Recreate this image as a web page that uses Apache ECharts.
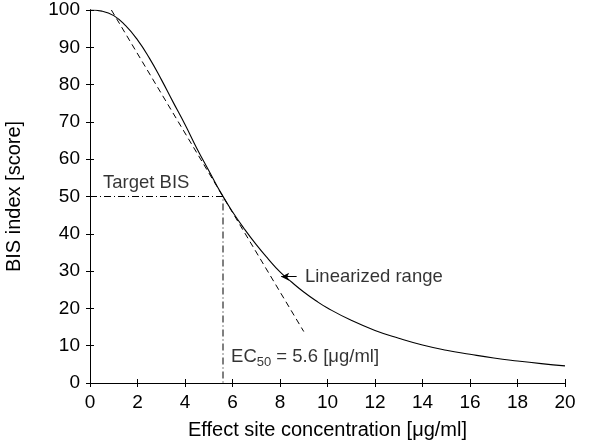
<!DOCTYPE html>
<html>
<head>
<meta charset="utf-8">
<script src="https://cdn.jsdelivr.net/npm/echarts@6/dist/echarts.min.js"></script>
<style>html,body{margin:0;padding:0;background:#fff;}#c{width:593px;height:447px;}</style>
</head>
<body>
<div id="c"></div>
<script>
const concentration = [0,0.5,1,1.5,2,2.5,3,3.5,4,4.5,5,5.5,6,6.5,7,7.5,8,8.5,9,9.5,10,11,12,13,14,15,16,17,18,19,20];
const bisIndex = [100,99.7,98.5,95.8,92.0,87.1,81.4,75.3,69.3,62.9,57.0,51.1,45.9,41.3,37.1,33.3,29.8,27.0,24.4,22.1,20.1,16.8,14.1,12.0,10.2,8.8,7.7,6.7,5.9,5.2,4.6];
const linearX = [0.9, 9];
const linearY = [100, 13.8];
const ec50 = 5.6;
const targetBis = 50;
const xTicks = [0,2,4,6,8,10,12,14,16,18,20];
const yTicks = [0,10,20,30,40,50,60,70,80,90,100];

const FONT = 'Liberation Sans, Arial, sans-serif';
const chart = echarts.init(document.getElementById('c'), null, {renderer:'canvas'});
const axisCommon = {
  type:'value', splitLine:{show:false},
  axisLine:{show:true, lineStyle:{color:'#000', width:1}},
  axisTick:{show:true, inside:true, length:4, lineStyle:{color:'#000'}},
};
chart.setOption({
  animation:false,
  backgroundColor:'#fff',
  grid:{left:90, right:28, top:10, bottom:64, containLabel:false, outerBoundsMode:'none'},
  xAxis:[
    Object.assign({}, axisCommon, {min:xTicks[0], max:xTicks[xTicks.length-1], interval:2, position:'bottom',
      name:'Effect site concentration [\u03bcg/ml]', nameLocation:'middle', nameGap:37,
      nameTextStyle:{fontFamily:FONT, fontSize:20, color:'#000'},
      axisLabel:{fontFamily:FONT, fontSize:19, color:'#000', margin:10}}),
    Object.assign({}, axisCommon, {min:xTicks[0], max:xTicks[xTicks.length-1], interval:2, position:'top', axisLabel:{show:false}})
  ],
  yAxis:[
    Object.assign({}, axisCommon, {min:yTicks[0], max:yTicks[yTicks.length-1], interval:10, position:'left',
      name:'BIS index [score]', nameLocation:'middle', nameGap:66, nameRotate:90,
      nameTextStyle:{fontFamily:FONT, fontSize:20, color:'#000'},
      axisLabel:{fontFamily:FONT, fontSize:19, color:'#000', margin:10}}),
    Object.assign({}, axisCommon, {min:yTicks[0], max:yTicks[yTicks.length-1], interval:10, position:'right', axisLabel:{show:false}})
  ],
  series:[
    {type:'line', data:concentration.map((c,i)=>[c,bisIndex[i]]), smooth:0.5, symbol:'none',
      lineStyle:{color:'#000', width:1.1}},
    {type:'line', data:linearX.map((c,i)=>[c,linearY[i]]), symbol:'none',
      lineStyle:{color:'#000', width:1, type:[6,4]}},
    {type:'line', data:[[0,targetBis],[ec50,targetBis],[ec50,0]], symbol:'none',
      lineStyle:{color:'#000', width:1, type:[7,3,1,3]}},
    {type:'line', data:[], symbol:'none',
      markLine:{silent:true, symbol:['none','arrow'], symbolSize:[6,8], label:{show:false},
        lineStyle:{color:'#000', width:1, type:'solid'},
        data:[[{coord:[8.7,28.5]},{coord:[8.05,28.5]}]]}},
    {type:'scatter', symbolSize:0, silent:true,
      data:[
        {value:[0.55,53.6], name:'Target BIS'},
        {value:[5.94,7.0], name:'ec'},
        {value:[9.05,28.5], name:'Linearized range'}
      ],
      label:{show:true, position:'right', distance:0, fontFamily:FONT, fontSize:18.5, color:'#000',
        formatter:p=> p.name==='ec' ? '{a|EC}{b|50}{a| = 5.6 [\u03bcg/ml]}' : p.name,
        rich:{a:{fontFamily:FONT, fontSize:18.5, color:'#000'}, b:{fontFamily:FONT, fontSize:13, color:'#000', padding:[11,0,0,0]}}}
    }
  ]
});
</script>
</body>
</html>
